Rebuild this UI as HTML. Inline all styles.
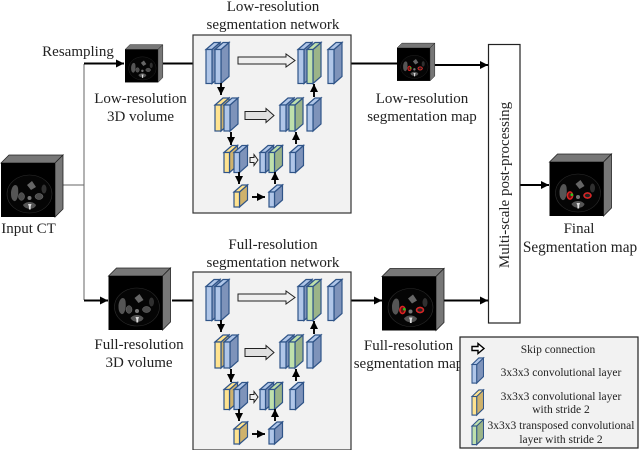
<!DOCTYPE html>
<html><head><meta charset="utf-8"><style>
html,body{margin:0;padding:0;background:#fff}
svg{display:block;filter:blur(.3px)}
text{font-family:"Liberation Serif",serif;fill:#222;text-anchor:middle;font-size:15px}
.l text{font-size:11.5px}
.b{--f:#b0c6e8;--s:#7e93ba;--e:#2f5488}
.y{--f:#ffe38f;--s:#cfb26c;--e:#2f5488}
.g{--f:#bfe0ac;--s:#9bb488;--e:#2f5488}
.k{stroke:#000;stroke-width:1.9;fill:none}
use[class]{stroke-width:1.2}
</style></head><body>
<svg width="640" height="450" viewBox="0 0 640 450" xmlns="http://www.w3.org/2000/svg">
<defs>
<g id="h34"><path d="M6 0L14-7V27L6 34Z" fill="var(--s)" stroke="var(--e)"/><path d="M0 0L8-7H14L6 0Z" fill="var(--f)" stroke="var(--e)"/><rect width="6" height="34" fill="var(--f)" stroke="var(--e)"/></g>
<g id="h26"><path d="M6 0L14-7V19L6 26Z" fill="var(--s)" stroke="var(--e)"/><path d="M0 0L8-7H14L6 0Z" fill="var(--f)" stroke="var(--e)"/><rect width="6" height="26" fill="var(--f)" stroke="var(--e)"/></g>
<g id="h20"><path d="M5.500 0L13.500-7V13L5.500 20Z" fill="var(--s)" stroke="var(--e)"/><path d="M0 0L8-7H13.500L5.500 0Z" fill="var(--f)" stroke="var(--e)"/><rect width="5.500" height="20" fill="var(--f)" stroke="var(--e)"/></g>
<g id="h15"><path d="M5.500 0L13.500-7V8L5.500 15Z" fill="var(--s)" stroke="var(--e)"/><path d="M0 0L8-7H13.500L5.500 0Z" fill="var(--f)" stroke="var(--e)"/><rect width="5.500" height="15" fill="var(--f)" stroke="var(--e)"/></g>
<marker id="a" markerUnits="userSpaceOnUse" markerWidth="9" markerHeight="9" refX="8" refY="4" orient="auto"><path d="M0 0L8 4L0 8Z" fill="#000"/></marker>
<g id="net">
<rect x="0" y="0" width="158" height="178" fill="#f2f2f2" stroke="#333" stroke-width="1.200"/>
<use href="#h34" class="b" x="13" y="14.500"/><use href="#h34" class="b" x="22" y="14.500"/>
<use href="#h34" class="b" x="105" y="14.500"/><use href="#h34" class="g" x="114" y="14.500"/><use href="#h34" class="b" x="135" y="14.500"/>
<use href="#h26" class="y" x="22" y="70"/><use href="#h26" class="b" x="31" y="70"/>
<use href="#h26" class="b" x="87" y="70"/><use href="#h26" class="g" x="96" y="70"/><use href="#h26" class="b" x="114" y="70"/>
<use href="#h20" class="y" x="31" y="117.500"/><use href="#h20" class="b" x="41" y="117.500"/>
<use href="#h20" class="b" x="67" y="117.500"/><use href="#h20" class="g" x="76" y="117.500"/><use href="#h20" class="b" x="97" y="117.500"/>
<use href="#h15" class="y" x="41" y="157"/><use href="#h15" class="b" x="76" y="157"/>
<path d="M45 22h48v-3l9 6.500l-9 6.500v-3h-48z" fill="#efefef" stroke="#222"/>
<path d="M52 76.500h21v-3l8 7l-8 7v-3h-21z" fill="#e0e0e0" stroke="#222"/>
<path d="M57 122.500h4v-3l4 5.500l-4 5.500v-3h-4z" fill="#efefef" stroke="#222"/>
<path class="k" marker-end="url(#a)" d="M28 48V60"/><path class="k" marker-end="url(#a)" d="M38 97V110"/><path class="k" marker-end="url(#a)" d="M46 137V149"/><path class="k" marker-end="url(#a)" d="M59 162H72"/><path class="k" marker-end="url(#a)" d="M82 149V137"/><path class="k" marker-end="url(#a)" d="M103 109V97"/><path class="k" marker-end="url(#a)" d="M121 62V49"/>
</g>
<g id="scan">
<rect width="54" height="54" fill="#000"/>
<ellipse cx="28.500" cy="31" rx="22.500" ry="19" fill="#050505" stroke="#2c2c2c" stroke-width=".6"/>
<path d="M10 29C11 21 16 20 17 25C18 32 16 39 13 38C10 36 10 33 10 29Z" fill="#555"/>
<path d="M26 22L31 18L35 24L30 27Z" fill="#666"/>
<ellipse cx="20.500" cy="33.500" rx="3" ry="3.800" fill="#4c4c4c" stroke="#777" stroke-width=".5"/>
<ellipse cx="38" cy="33.500" rx="4" ry="3" fill="#4c4c4c" stroke="#777" stroke-width=".5"/>
<ellipse cx="43" cy="26" rx="2.500" ry="4.500" fill="#303030"/>
<path d="M22 42C25 38 32 38 35 42C34 47 24 47 22 42Z" fill="#555"/>
<path d="M27 41h3.500l-.8 2.500v3h-1.800v-3z" fill="#ddd"/><circle cx="28.500" cy="35" r="2" fill="#777"/>
</g>
<g id="redscan"><use href="#scan"/>
<ellipse cx="20.500" cy="33.500" rx="2.600" ry="3.600" fill="#611" stroke="#d22" stroke-width="1.500"/>
<ellipse cx="38" cy="33.500" rx="3.400" ry="2.500" fill="#222" stroke="#d22" stroke-width="1.500"/>
<circle cx="22.300" cy="32.700" r="1.300" fill="#2c2"/></g>
<g id="box"><path d="M0 0L8-8H62L54 0Z" fill="#777" stroke="#222" stroke-width=".8"/><path d="M54 0L62-8V46L54 54Z" fill="#777" stroke="#222" stroke-width=".8"/></g>
</defs>

<rect width="640" height="450" fill="#fff"/>

<path d="M62 185H84M84 64V300" stroke="#666" fill="none" stroke-width="1"/>
<path class="k" marker-end="url(#a)" d="M84 63.500H124"/>
<path class="k" marker-end="url(#a)" d="M84 300.500H108"/>
<path class="k" marker-end="url(#a)" d="M163 63.500H205"/>
<path class="k" marker-end="url(#a)" d="M172 300.500H205"/>
<path class="k" d="M343 63.500H397"/>
<path class="k" marker-end="url(#a)" d="M430 65H488"/>
<path class="k" marker-end="url(#a)" d="M520 185H549"/>
<path class="k" marker-end="url(#a)" d="M343 300.500H382"/>
<path class="k" marker-end="url(#a)" d="M443 300.500H488"/>

<use href="#net" x="193" y="35"/>
<use href="#net" x="193" y="272"/>

<g transform="translate(1 163)"><use href="#box"/><use href="#scan"/></g>
<g transform="translate(125 49.500) scale(.61)"><use href="#box"/><use href="#scan"/></g>
<g transform="translate(108.500 276)"><use href="#box"/><use href="#scan"/></g>
<g transform="translate(397 48) scale(.61)"><use href="#box"/><use href="#redscan"/></g>
<g transform="translate(382 276.500)"><use href="#box"/><use href="#redscan"/></g>
<g transform="translate(549.500 162)"><use href="#box"/><use href="#redscan"/></g>

<rect x="488.500" y="44.500" width="31.500" height="278.500" fill="#fff" stroke="#222" stroke-width="1.200"/>
<text transform="translate(509 185) rotate(-90)">Multi-scale post-processing</text>

<text x="78" y="56">Resampling</text>
<text x="140.500" y="103">Low-resolution</text><text x="140.500" y="121">3D volume</text>
<text x="273" y="11">Low-resolution</text><text x="273" y="29">segmentation network</text>
<text x="422" y="103">Low-resolution</text><text x="422" y="121">segmentation map</text>
<text x="28.500" y="233">Input CT</text>
<text x="579" y="233">Final</text><text x="580" y="252" style="font-size:15.300px">Segmentation map</text>
<text x="273" y="249">Full-resolution</text><text x="273" y="267">segmentation network</text>
<text x="139" y="349">Full-resolution</text><text x="139" y="367">3D volume</text>
<text x="408.500" y="350">Full-resolution</text><text x="408.500" y="368">segmentation map</text>

<g class="l">
<rect x="460" y="337" width="178" height="111" fill="#f2f2f2" stroke="#222" stroke-width="1.200"/>
<path d="M472 346.500h6v-3l6 5l-6 5v-3h-6z" fill="#fff" stroke="#000" stroke-width="1.400"/>
<text x="558" y="353">Skip connection</text>
<g transform="translate(472 364.500) scale(.85 .93)"><use href="#h20" class="b"/></g>
<text x="561" y="376">3x3x3 convolutional layer</text>
<g transform="translate(472 396.500) scale(.85 .93)"><use href="#h20" class="y"/></g>
<text x="561" y="400">3x3x3 convolutional layer</text><text x="561" y="413">with stride 2</text>
<g transform="translate(472 426) scale(.85 .93)"><use href="#h20" class="g"/></g>
<text x="561" y="429">3x3x3 transposed convolutional</text><text x="561" y="443">layer with stride 2</text>
</g>
</svg>
</body></html>
